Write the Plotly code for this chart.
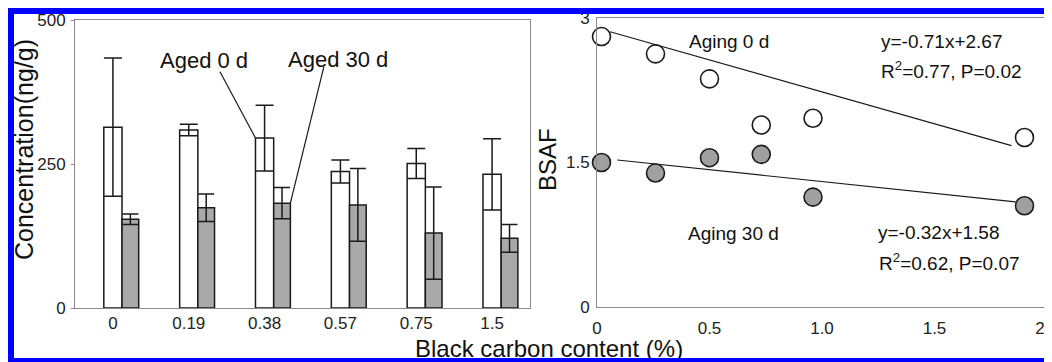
import plotly.graph_objects as go

PAGE_OFF = 8  # browser default body margin shifts the figure by 8 px
W, H = 1052 - PAGE_OFF, 362 - PAGE_OFF

# ---------------- data (left panel: concentrations) ----------------
bc_categories = ["0", "0.19", "0.38", "0.57", "0.75", "1.5"]
aged0_mean = [314, 309, 295, 237, 251, 232]
aged0_sd = [120, 10, 57, 20, 26, 62]
aged30_mean = [154, 174, 182, 179, 130, 121]
aged30_sd = [9, 24, 27, 63, 80, 24]

# ---------------- data (right panel: BSAF) ----------------
bsaf_x = [0.02, 0.26, 0.50, 0.73, 0.96, 1.90]
bsaf_aging0 = [2.81, 2.63, 2.37, 1.89, 1.96, 1.76]
bsaf_aging30 = [1.50, 1.39, 1.55, 1.585, 1.14, 1.05]
fit0_x = [0.058, 1.842]
fit0_y = [2.86, 1.675]
fit30_x = [0.09, 1.86]
fit30_y = [1.526, 1.09]

idx = list(range(len(bc_categories)))

FONT = "Arial, Liberation Sans, Helvetica, sans-serif"
GRAY_FILL = "#a9a9a9"
EDGE = "#1a1a1a"
FRAME = "#8a8a8a"
BLUE = "#0000ff"


def px_x(p):
    return (p - PAGE_OFF) / W


def px_y(p):
    return 1 - (p - PAGE_OFF) / H


fig = go.Figure()

fig.add_trace(go.Bar(
    x=idx, y=aged0_mean, width=0.24, offset=-0.12,
    marker=dict(color="white", line=dict(color=EDGE, width=1.5)),
    error_y=dict(type="data", array=aged0_sd, color=EDGE, thickness=1.5, width=9),
    xaxis="x", yaxis="y", showlegend=False, name="Aged 0 d",
))
fig.add_trace(go.Bar(
    x=idx, y=aged30_mean, width=0.22, offset=0.12,
    marker=dict(color=GRAY_FILL, line=dict(color=EDGE, width=1.5)),
    error_y=dict(type="data", array=aged30_sd, color=EDGE, thickness=1.5, width=8),
    xaxis="x", yaxis="y", showlegend=False, name="Aged 30 d",
))

fig.add_trace(go.Scatter(
    x=fit0_x, y=fit0_y, mode="lines", line=dict(color=EDGE, width=1.2),
    xaxis="x2", yaxis="y2", showlegend=False, cliponaxis=False,
))
fig.add_trace(go.Scatter(
    x=fit30_x, y=fit30_y, mode="lines", line=dict(color=EDGE, width=1.2),
    xaxis="x2", yaxis="y2", showlegend=False, cliponaxis=False,
))
fig.add_trace(go.Scatter(
    x=bsaf_x, y=bsaf_aging0, mode="markers",
    marker=dict(size=18, color="white", line=dict(color=EDGE, width=1.6)),
    xaxis="x2", yaxis="y2", showlegend=False, cliponaxis=False, name="Aging 0 d",
))
fig.add_trace(go.Scatter(
    x=bsaf_x, y=bsaf_aging30, mode="markers",
    marker=dict(size=18, color="#a0a0a0", line=dict(color=EDGE, width=1.6)),
    xaxis="x2", yaxis="y2", showlegend=False, cliponaxis=False, name="Aging 30 d",
))

axis_common = dict(showline=True, mirror=True, linecolor=FRAME, linewidth=1,
                   showgrid=False, zeroline=False,
                   tickfont=dict(family=FONT, size=17, color="#222"))

fig.update_layout(
    width=W, height=H,
    margin=dict(l=0, r=0, t=0, b=0, pad=0, autoexpand=False),
    paper_bgcolor="white", plot_bgcolor="white",
    barmode="overlay",
    font=dict(family=FONT, color="#111"),
    xaxis=dict(domain=[px_x(75), px_x(530)], range=[-0.5, 5.5], anchor="y",
               tickvals=idx, ticktext=bc_categories, ticks="",
               ticklabelstandoff=0, **axis_common),
    yaxis=dict(domain=[px_y(308), px_y(20)], range=[0, 500], anchor="x",
               tickvals=[0, 250, 500], ticks="outside", ticklen=3, tickcolor=FRAME,
               ticklabelstandoff=2, **axis_common),
    xaxis2=dict(domain=[px_x(597), px_x(1047)], range=[0, 2.0], anchor="y2",
                tickvals=[0, 0.5, 1.0, 1.5, 2.0], ticktext=["0", "0.5", "1.0", "1.5", "2.0"],
                ticks="", ticklabelstandoff=6, ticklabeloverflow="allow", **axis_common),
    yaxis2=dict(domain=[px_y(306.7), px_y(18.3)], range=[0, 3], anchor="x2",
                tickvals=[0, 1.5, 3], ticktext=["0", "1.5", "3"], ticks="",
                ticklabelstandoff=3, **axis_common),
)

ann = []
# axis titles
ann.append(dict(text="Concentration(ng/g)", xref="paper", yref="paper",
                x=px_x(24), y=px_y(150), xanchor="center", yanchor="middle",
                textangle=-90, showarrow=False,
                font=dict(family=FONT, size=25, color="#111")))
ann.append(dict(text="BSAF", xref="paper", yref="paper",
                x=px_x(547), y=px_y(160), xanchor="center", yanchor="middle",
                textangle=-90, showarrow=False,
                font=dict(family=FONT, size=24, color="#111")))
ann.append(dict(text="Black carbon content (%)", xref="paper", yref="paper",
                x=px_x(549), y=px_y(348), xanchor="center", yanchor="middle",
                showarrow=False, font=dict(family=FONT, size=24, color="#111")))
# left panel labels
ann.append(dict(text="Aged 0 d", xref="x", yref="y", x=1.207, y=430,
                showarrow=False, font=dict(family=FONT, size=22, color="#111")))
ann.append(dict(text="Aged 30 d", xref="x", yref="y", x=2.967, y=432,
                showarrow=False, font=dict(family=FONT, size=22, color="#111")))
# right panel labels
rfont = dict(family=FONT, size=19, color="#111")
ann.append(dict(text="Aging 0 d", xref="x2", yref="y2", x=0.586, y=2.757,
                showarrow=False, font=rfont))
ann.append(dict(text="Aging 30 d", xref="x2", yref="y2", x=0.606, y=0.764,
                showarrow=False, font=rfont))
ann.append(dict(text="y=-0.71x+2.67", xref="x2", yref="y2", x=1.252, y=2.757,
                xanchor="left", showarrow=False, font=rfont))
ann.append(dict(text="R<sup>2</sup>=0.77, P=0.02", xref="x2", yref="y2", x=1.252, y=2.462,
                xanchor="left", showarrow=False, font=rfont))
ann.append(dict(text="y=-0.32x+1.58", xref="x2", yref="y2", x=1.239, y=0.774,
                xanchor="left", showarrow=False, font=rfont))
ann.append(dict(text="R<sup>2</sup>=0.62, P=0.07", xref="x2", yref="y2", x=1.243, y=0.468,
                xanchor="left", showarrow=False, font=rfont))
# bottom blue border band, drawn above the x title (which it partly hides)
ann.append(dict(text="_", xref="paper", yref="paper", x=px_x(8), y=0,
                xanchor="left", yanchor="bottom", width=W, height=4,
                bgcolor=BLUE, borderpad=0, borderwidth=0, showarrow=False,
                font=dict(size=3, color=BLUE)))
fig.update_layout(annotations=ann)

shapes = [
    # leader lines
    dict(type="line", xref="x", yref="y", x0=1.412, y0=410, x1=2 - 0.12, y1=aged0_mean[2],
         line=dict(color=EDGE, width=1.2)),
    dict(type="line", xref="x", yref="y", x0=2.782, y0=419, x1=2 + 0.34, y1=aged30_mean[2],
         line=dict(color=EDGE, width=1.2)),
    # blue frame (top and left)
    dict(type="rect", xref="paper", yref="paper", x0=px_x(8), x1=1.0, y0=px_y(14), y1=px_y(8),
         fillcolor=BLUE, line=dict(width=0), layer="above"),
    dict(type="rect", xref="paper", yref="paper", x0=px_x(8), x1=px_x(14), y0=0, y1=px_y(8),
         fillcolor=BLUE, line=dict(width=0), layer="above"),
]
fig.update_layout(shapes=shapes)

fig.write_html("out.html")
